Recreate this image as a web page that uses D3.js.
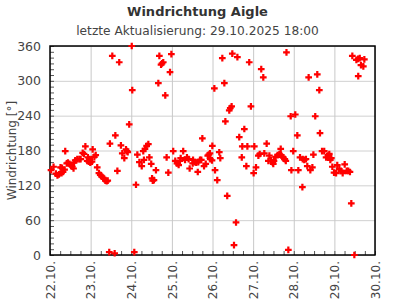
<!DOCTYPE html>
<html>
<head>
<meta charset="utf-8">
<script src="https://cdn.jsdelivr.net/npm/d3@7"></script>
<style>
  body { margin: 0; background: #fff; }
  svg { display: block; font-family: "DejaVu Sans", sans-serif; }
</style>
</head>
<body>
<svg></svg>
<script>
let title = "Windrichtung Aigle"
let subtitle = "letzte Aktualisierung: 29.10.2025 18:00"
let yLabel = "Windrichtung [°]"

// hours since 22.10.2025 00:00
let hours = [
  0.6, 2.1, 3.5, 4.4, 5.3, 6.2, 6.8, 7.1, 7.7, 8.6, 9.0, 9.9, 10.6, 11.5, 12.4, 13.2, 13.9, 14.2, 14.9, 16.1,
  17.3, 18.1, 19.3, 20.1, 20.9, 22.0, 22.4, 22.9, 23.4, 23.8, 24.8, 25.2, 26.2, 27.0, 27.9, 28.9, 29.7, 30.5, 31.5, 32.1,
  32.7, 33.5, 34.1, 35.0, 35.4, 36.8, 38.2, 38.6, 39.8, 40.9, 41.9, 42.7, 43.9, 44.9, 45.5, 45.9, 46.8, 48.3, 48.6, 49.8,
  50.8, 51.6, 52.8, 54.2, 55.1, 55.5, 56.1, 57.1, 58.1, 58.7, 59.8, 60.3, 60.7, 61.4, 62.6, 64.0, 64.6, 65.6, 66.2, 66.9,
  68.1, 68.9, 69.9, 70.9, 71.7, 72.8, 74.0, 75.0, 76.0, 76.8, 77.2, 78.7, 79.8, 80.9, 81.9, 82.5, 84.3, 84.5, 85.5, 86.4,
  87.3, 87.6, 88.6, 89.4, 90.0, 91.0, 92.0, 93.2, 93.8, 94.5, 94.7, 95.7, 95.9, 97.1, 97.5, 98.8, 100.0, 100.6, 101.8, 103.0,
  103.6, 104.7, 105.9, 106.5, 107.3, 107.7, 108.7, 109.9, 110.7, 111.8, 113.3, 113.6, 114.8, 116.0, 116.6, 117.7, 118.7, 120.3, 120.7, 121.7,
  123.1, 123.9, 124.8, 126.0, 126.6, 128.0, 129.0, 129.6, 130.6, 131.6, 131.9, 132.3, 133.3, 134.5, 135.5, 136.3, 136.5, 137.2, 137.8, 138.7,
  139.3, 139.7, 140.8, 142.2, 142.6, 143.7, 144.9, 146.1, 146.7, 147.7, 149.1, 149.3, 150.2, 151.2, 152.0, 152.8, 153.8, 155.0, 155.6, 156.7,
  157.9, 159.1, 159.5, 160.7, 162.0, 163.1, 164.2, 165.0, 165.6, 166.2, 166.8, 167.8, 169.0, 169.7, 170.9, 171.9, 172.9, 174.1, 175.3, 176.2,
  177.2, 178.0, 178.6, 179.8, 181.0, 182.0, 182.1, 183.0, 183.7, 185.1, 185.7
]

// wind direction in degrees
let direction = [
  146, 152, 140, 137, 139, 151, 141, 150, 143, 147, 179, 158, 159, 157, 154, 152, 149, 159, 163, 165,
  165, 165, 176, 174, 187, 162, 168, 161, 165, 159, 161, 182, 169, 172, 151, 141, 138, 135, 133, 131,
  128, 127, 128, 5, 192, 343, 3, 206, 145, 332, 189, 175, 167, 182, 179, 177, 225, 360, 284, 5,
  121, 173, 160, 153, 179, 164, 183, 188, 191, 168, 157, 132, 128, 129, 146, 296, 343, 328, 330, 332,
  275, 168, 142, 315, 346, 179, 162, 158, 155, 162, 167, 179, 164, 168, 165, 149, 158, 164, 160, 159,
  143, 160, 164, 164, 201, 153, 157, 171, 173, 175, 165, 163, 188, 287, 146, 129, 177, 167, 339, 296,
  230, 102, 249, 253, 256, 347, 17, 56, 341, 203, 168, 187, 217, 153, 187, 332, 256, 141, 187, 151,
  171, 174, 320, 306, 175, 192, 162, 171, 163, 159, 157, 162, 169, 172, 174, 183, 172, 169, 168, 165,
  162, 349, 9, 239, 146, 179, 242, 206, 146, 168, 117, 165, 164, 165, 153, 306, 146, 151, 173, 239,
  311, 284, 210, 179, 179, 168, 171, 174, 164, 167, 152, 142, 141, 155, 148, 145, 141, 156, 145, 145,
  143, 89, 343, 0, 336, 338, 308, 339, 327, 325, 337
]

let yTicks = [0, 60, 120, 180, 240, 300, 360]
let startDate = new Date(2025, 9, 22)
let endDate = new Date(2025, 9, 30)

let width = 395
let height = 300
let margin = {top: 46, right: 20, bottom: 45, left: 50}

let svg = d3.select('svg')
    .attr('width', width)
    .attr('height', height)

let toDate = (h) => new Date(startDate.getTime() + h * 3600 * 1000)

let values = hours.map((h, i) => [toDate(h), direction[i]])

let xScale = d3.scaleTime()
    .domain([startDate, endDate])
    .range([margin.left, width - margin.right])

let yScale = d3.scaleLinear()
    .domain([0, 360])
    .range([height - margin.bottom, margin.top])

let plotW = width - margin.left - margin.right
let plotH = height - margin.top - margin.bottom

// grid
svg.append('g')
    .attr('transform', `translate(${margin.left}, 0)`)
    .call(d3.axisLeft(yScale).tickValues(yTicks).tickSize(-plotW).tickFormat(''))
    .call(g => g.select('.domain').remove())
    .selectAll('line').attr('stroke', '#d0d0d0')

svg.append('g')
    .attr('transform', `translate(0, ${height - margin.bottom})`)
    .call(d3.axisBottom(xScale).ticks(d3.timeDay.every(1)).tickSize(-plotH).tickFormat(''))
    .call(g => g.select('.domain').remove())
    .selectAll('line').attr('stroke', '#c8c8c8')

// minor ticks (inside)
svg.append('g')
    .attr('transform', `translate(0, ${height - margin.bottom})`)
    .call(d3.axisBottom(xScale).ticks(d3.timeHour.every(6)).tickSize(-4).tickFormat(''))
    .call(g => g.select('.domain').remove())
    .selectAll('line').attr('stroke', '#555')

svg.append('g')
    .attr('transform', `translate(${margin.left}, 0)`)
    .call(d3.axisLeft(yScale).tickValues(d3.range(0, 361, 10)).tickSize(-4).tickFormat(''))
    .call(g => g.select('.domain').remove())
    .selectAll('line').attr('stroke', '#555')

// frame
svg.append('rect')
    .attr('x', margin.left)
    .attr('y', margin.top)
    .attr('width', plotW)
    .attr('height', plotH)
    .attr('fill', 'none')
    .attr('stroke', '#000')
    .attr('stroke-width', 1.5)

// axis labels
let yAxis = svg.append('g')
    .attr('transform', `translate(${margin.left}, 0)`)
    .call(d3.axisLeft(yScale).tickValues(yTicks).tickSize(0).tickPadding(9))
yAxis.select('.domain').remove()
yAxis.selectAll('text')
    .attr('font-size', 12.5)
    .attr('font-family', 'DejaVu Sans')
    .attr('fill', '#444')

let xAxis = svg.append('g')
    .attr('transform', `translate(0, ${height - margin.bottom})`)
    .call(d3.axisBottom(xScale).ticks(d3.timeDay.every(1)).tickSize(0).tickFormat(d3.timeFormat('%d.%m.')))
xAxis.select('.domain').remove()
xAxis.selectAll('text')
    .attr('font-size', 12)
    .attr('font-family', 'DejaVu Sans')
    .attr('fill', '#444')
    .attr('text-anchor', 'end')
    .attr('transform', 'rotate(-90)')
    .attr('x', -6)
    .attr('y', 0)
    .attr('dy', '0.35em')

// points
svg.append('g')
    .selectAll('path')
    .data(values)
    .enter()
    .append('path')
    .attr('d', d3.symbol().type(d3.symbolCross).size(25))
    .attr('transform', (d) => `translate(${xScale(d[0])}, ${yScale(d[1])})`)
    .attr('fill', '#ff0000')

// titles
svg.append('text')
    .attr('x', width / 2)
    .attr('y', 16)
    .attr('text-anchor', 'middle')
    .attr('font-size', 13)
    .attr('font-weight', 'bold')
    .attr('fill', '#333')
    .text(title)

svg.append('text')
    .attr('x', width / 2)
    .attr('y', 35)
    .attr('text-anchor', 'middle')
    .attr('font-size', 12.2)
    .attr('fill', '#444')
    .text(subtitle)

svg.append('text')
    .attr('transform', `translate(12, ${margin.top + plotH / 2}) rotate(-90)`)
    .attr('text-anchor', 'middle')
    .attr('dy', '0.35em')
    .attr('font-size', 12)
    .attr('fill', '#444')
    .text(yLabel)
</script>
</body>
</html>
